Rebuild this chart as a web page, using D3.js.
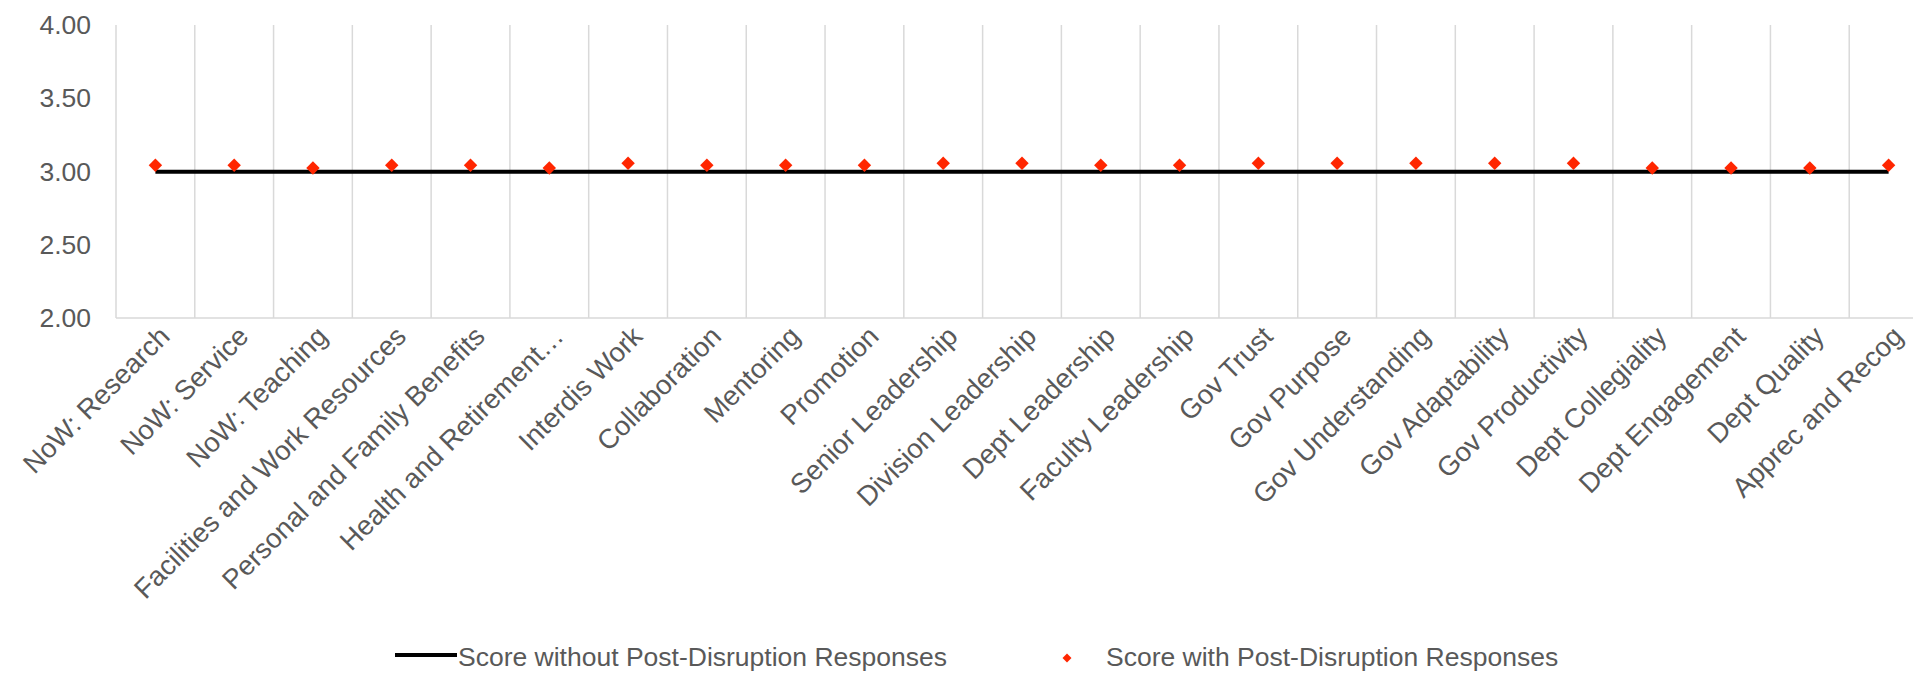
<!DOCTYPE html>
<html>
<head>
<meta charset="utf-8">
<script src="https://cdn.jsdelivr.net/npm/d3@7"></script>
<style>
  body { margin: 0; background: #fff; }
  text { font-family: "Liberation Sans", Arial, sans-serif; fill: #595959; }
</style>
</head>
<body>
<div id="chart"></div>
<script>
// categories along the x axis
var categories = ["NoW: Research", "NoW: Service", "NoW: Teaching", "Facilities and Work Resources",
	"Personal and Family Benefits", "Health and Retirement\u2026", "Interdis Work", "Collaboration",
	"Mentoring", "Promotion", "Senior Leadership", "Division Leadership", "Dept Leadership",
	"Faculty Leadership", "Gov Trust", "Gov Purpose", "Gov Understanding", "Gov Adaptability",
	"Gov Productivity", "Dept Collegiality", "Dept Engagement", "Dept Quality", "Apprec and Recog"];

// score without post-disruption responses (baseline)
var scoreWithout = [3.00, 3.00, 3.00, 3.00, 3.00, 3.00, 3.00, 3.00, 3.00, 3.00, 3.00, 3.00,
	3.00, 3.00, 3.00, 3.00, 3.00, 3.00, 3.00, 3.00, 3.00, 3.00, 3.00];

// score with post-disruption responses
var scoreWith = [3.044, 3.044, 3.026, 3.044, 3.044, 3.026, 3.058, 3.044, 3.044, 3.044, 3.058, 3.058,
	3.044, 3.044, 3.058, 3.058, 3.058, 3.058, 3.058, 3.026, 3.026, 3.026, 3.044];

var yTicks = [2.00, 2.50, 3.00, 3.50, 4.00];

var seriesNames = ["Score without Post-Disruption Responses", "Score with Post-Disruption Responses"];

var W = 1913, H = 673;
var margin = {top: 25, left: 116, bottom: 355};
var plotRight = 1928;   // plot area runs a bit past the picture edge
var plotBottom = H - margin.bottom;

var svg = d3.select("#chart").append("svg")
	.attr("width", W)
	.attr("height", H);

var x = d3.scaleBand()
	.domain(categories)
	.range([margin.left, plotRight])
	.padding(0);

var y = d3.scaleLinear()
	.domain([2, 4])
	.range([plotBottom + 0.5, margin.top]);

// vertical gridlines on the band edges
var edges = categories.map(function(c) { return x(c); });
svg.append("g").selectAll("line")
	.data(edges).enter()
	.append("line")
	.attr("x1", function(d) { return d; })
	.attr("x2", function(d) { return d; })
	.attr("y1", margin.top)
	.attr("y2", plotBottom)
	.attr("stroke", "#d9d9d9")
	.attr("stroke-width", 1.5);

// x axis line
svg.append("line")
	.attr("x1", margin.left)
	.attr("x2", plotRight)
	.attr("y1", plotBottom)
	.attr("y2", plotBottom)
	.attr("stroke", "#d9d9d9")
	.attr("stroke-width", 1.5);

// y tick labels
var yAxis = d3.axisLeft(y)
	.tickValues(yTicks)
	.tickFormat(d3.format(".2f"))
	.tickSize(0)
	.tickPadding(0);

var yg = svg.append("g")
	.attr("transform", "translate(" + 91 + ",0)")
	.call(yAxis);
yg.select(".domain").remove();
yg.selectAll("text")
	.attr("font-size", "26.5px")
	.attr("font-family", null)
	.attr("fill", "#595959");

// category labels, rotated
svg.append("g").selectAll("text")
	.data(categories).enter()
	.append("text")
	.attr("text-anchor", "end")
	.attr("font-size", "27.5px")
	.attr("transform", function(d) {
		var cx = x(d) + x.bandwidth() / 2 + 16;
		return "translate(" + cx + "," + 338 + ") rotate(-45)";
	})
	.text(function(d) { return d; });

// baseline series as a line
var line = d3.line()
	.x(function(d, i) { return x(categories[i]) + x.bandwidth() / 2; })
	.y(function(d) { return y(d); });

svg.append("path")
	.datum(scoreWithout)
	.attr("d", line)
	.attr("fill", "none")
	.attr("stroke", "#000")
	.attr("stroke-width", 4);

// post-disruption series as diamonds
var diamond = d3.symbol().type(d3.symbolSquare).size(90);
svg.append("g").selectAll("path")
	.data(scoreWith).enter()
	.append("path")
	.attr("d", diamond)
	.attr("fill", "#ff2600")
	.attr("transform", function(d, i) {
		return "translate(" + (x(categories[i]) + x.bandwidth() / 2) + "," + y(d) + ") rotate(45)";
	});

// legend
var legend = svg.append("g");
legend.append("line")
	.attr("x1", 395).attr("x2", 457)
	.attr("y1", 655).attr("y2", 655)
	.attr("stroke", "#000")
	.attr("stroke-width", 4);
legend.append("text")
	.attr("x", 458).attr("y", 666)
	.attr("font-size", "26.5px")
	.text(seriesNames[0]);
legend.append("path")
	.attr("d", d3.symbol().type(d3.symbolSquare).size(40))
	.attr("fill", "#ff2600")
	.attr("transform", "translate(1067,658) rotate(45)");
legend.append("text")
	.attr("x", 1106).attr("y", 666)
	.attr("font-size", "26.5px")
	.text(seriesNames[1]);
</script>
</body>
</html>
